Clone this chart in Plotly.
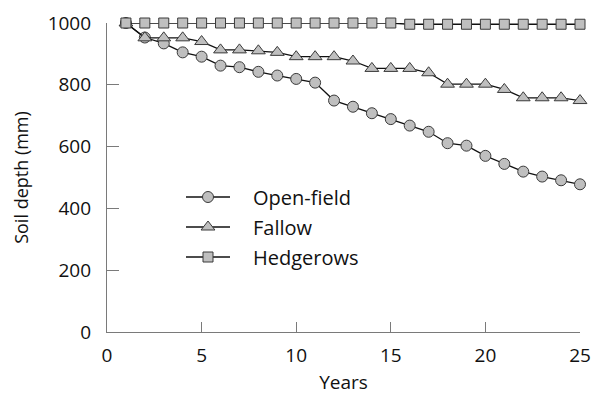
import plotly.graph_objects as go

# Soil depth over time under three land-use systems
years = list(range(1, 26))
open_field = [1000, 953, 934, 905, 891, 862, 857, 842, 830, 819, 807, 749, 729,
              708, 689, 668, 648, 611, 603, 570, 544, 519, 503, 491, 478]
fallow = [1000, 952, 952, 952, 940, 913, 913, 910, 905, 891, 891, 891, 877,
          853, 853, 853, 839, 802, 802, 802, 785, 758, 758, 758, 749]
hedgerows = [1000] * 15 + [996] * 10

series_names = ["Open-field", "Fallow", "Hedgerows"]
series_values = [open_field, fallow, hedgerows]
series_symbols = ["circle", "triangle-up", "square"]
series_sizes = [11, 12, 10]

x_ticks = [0, 5, 10, 15, 20, 25]
y_ticks = [0, 200, 400, 600, 800, 1000]

FONT = "Open Sans"
fill = "#bfbfbf"
edge = "#3a3a3a"
line_col = "#111111"

# plot area in pixels (figure is 594 x 395)
L, R, T, B = 107, 580, 23, 332

fig = go.Figure()

# data series, drawn back to front so the square series sits on top
for name, vals, sym, size in zip(series_names, series_values, series_symbols, series_sizes):
    fig.add_trace(go.Scatter(
        x=years, y=vals, name=name, mode="lines+markers",
        line=dict(color=line_col, width=1.3),
        marker=dict(symbol=sym, size=size, color=fill,
                    line=dict(color=edge, width=1)),
        cliponaxis=False, showlegend=False,
    ))

# key: overlay axes whose units are pixels of the figure
key_x0, key_x1, key_text_x = 186, 230, 251
key_rows = [197, 227, 257]
for name, sym, size, ky in zip(series_names, series_symbols, series_sizes, key_rows):
    fig.add_trace(go.Scatter(
        x=[key_x0, key_x1], y=[ky, ky], mode="lines",
        line=dict(color=line_col, width=1.3),
        xaxis="x2", yaxis="y2", showlegend=False, hoverinfo="skip",
    ))
    fig.add_trace(go.Scatter(
        x=[(key_x0 + key_x1) / 2], y=[ky], mode="markers",
        marker=dict(symbol=sym, size=size, color=fill, line=dict(color=edge, width=1)),
        xaxis="x2", yaxis="y2", showlegend=False, hoverinfo="skip",
    ))
    fig.add_annotation(
        x=key_text_x, y=ky, xref="x2", yref="y2", text=name, showarrow=False,
        xanchor="left", yanchor="middle",
        font=dict(family=FONT, size=20, color=line_col),
    )

axis_common = dict(
    showgrid=False, zeroline=False, showline=True, linecolor="#7a7a7a",
    linewidth=1.2, ticks="inside", tickcolor="#7a7a7a", tickwidth=1.2,
    tickfont=dict(family=FONT, size=19, color=line_col), automargin=False,
)

fig.update_layout(
    width=594, height=395,
    margin=dict(l=L, r=594 - R, t=T, b=395 - B),
    plot_bgcolor="white", paper_bgcolor="white",
    font=dict(family=FONT, color=line_col),
    showlegend=False,
    xaxis=dict(
        range=[0, 25], tickvals=x_ticks, ticklen=10,
        title=dict(text="Years", font=dict(family=FONT, size=19), standoff=8),
        ticklabelstandoff=6,
        **axis_common,
    ),
    yaxis=dict(
        range=[0, 1000], tickvals=y_ticks, ticklen=12,
        title=dict(text="Soil depth (mm)", font=dict(family=FONT, size=18), standoff=14),
        ticklabelstandoff=11,
        **axis_common,
    ),
    xaxis2=dict(range=[L, R], overlaying="x", visible=False, fixedrange=True),
    yaxis2=dict(range=[B, T], overlaying="y", visible=False, fixedrange=True),
)

fig.write_html("out.html")
